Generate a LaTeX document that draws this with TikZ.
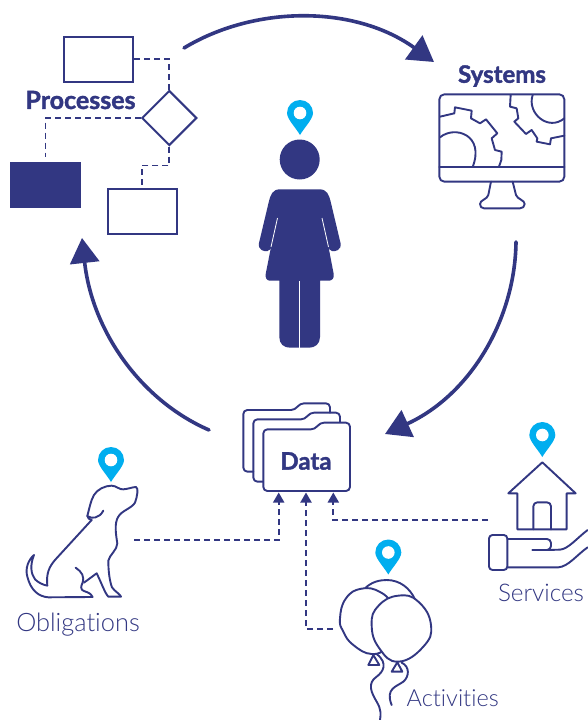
\documentclass[tikz,border=0pt]{standalone}
\usepackage{fontspec}
\usetikzlibrary{shapes.geometric,arrows.meta}
\newfontfamily\headf{Lato}[BoldFont=* Bold,BoldFeatures={FakeBold=1.6}]
\newfontfamily\labf{Lato Light}[Ligatures=NoCommon]
\definecolor{navy}{HTML}{323782}
\definecolor{pinblue}{HTML}{00AEEF}
\tikzset{
  outline/.style={draw=navy,line width=1.9pt,line join=round,line cap=round},
  flowbox/.style={draw=navy,line width=2pt,fill=white,minimum width=69pt,minimum height=45pt,inner sep=0pt},
  dashline/.style={draw=navy,line width=1.9pt,dash pattern=on 6pt off 4pt},
  dasharrow/.style={dashline,-{Triangle[width=11pt,length=10pt]}},
  bigarc/.style={draw=navy,line width=3.6pt,line cap=round,-{Triangle[width=29pt,length=25pt]}},
  headlab/.style={font=\headf\bfseries\fontsize{24}{26}\selectfont,text=navy,inner sep=0pt},
  lightlab/.style={font=\labf\fontsize{24.3}{26}\selectfont,text=navy,inner sep=0pt},
  pinmark/.pic={
    \fill[pinblue] (-13,0) .. controls (-13,-7.2) and (-7.2,-13) .. (0,-13)
      .. controls (7.2,-13) and (13,-7.2) .. (13,0)
      .. controls (13,6) and (4,15) .. (0,22)
      .. controls (-4,15) and (-13,6) .. (-13,0) -- cycle;
    \fill[white] (0,0) circle[radius=6.3pt];
  }
}
\begin{document}
\begin{tikzpicture}[x=1pt,y=-1pt]
\useasboundingbox (0,0) rectangle (588,720);
\fill[white] (0,0) rectangle (588,720);

% processes
\node[flowbox] (boxa) at (98.8,59.3) {};
\node[flowbox] (boxc) at (142,211.6) {};
\node[fill=navy,minimum width=71pt,minimum height=46pt,inner sep=0pt] (boxb) at (45.5,185) {};
\node[diamond,aspect=1,draw=navy,line width=2pt,fill=white,minimum size=55pt,inner sep=0pt] (dec) at (169.3,118) {};
\node[headlab,font=\headf\bfseries\fontsize{25}{26}\selectfont] (proc) at (80.5,100) {Processes};
\draw[dashline] (boxa.east) -| (dec.north);
\draw[dashline] (dec.west) -| ([yshift=5pt]boxb.north);
\draw[dashline] (dec.south) |- (142,165.5) -- (boxc.north);

% systems
\node[headlab] (sys) at (502,76) {Systems};
\node[minimum width=125pt,minimum height=87.4pt,inner sep=0pt] (mon) at (501.8,138) {};
\begin{scope}[shift={(420,50)},x=.3333pt,y=-.3333pt]
  \draw[outline] (60,200) -- (103,190) -- (105,172) -- (155,182) -- (153,205) -- (180,220) -- (198,208) -- (232,250) -- (215,265) -- (225,300) -- (245,305) -- (244,330) -- (237,350);
  \draw[outline] (60,262) .. controls (105,225) and (195,255) .. (158,351);
  \draw[outline] (272,135) -- (270,170) -- (290,175) -- (295,205) -- (283,215) -- (318,252) -- (335,240) -- (352,265) -- (350,275) -- (390,283) -- (393,265) -- (433,257);
  \draw[outline] (338,135) .. controls (320,190) and (385,245) .. (433,205);
  \draw[outline,rounded corners=5pt] (58,133) rectangle (433,395);
  \draw[outline] (58,351) -- (433,351);
  \draw[outline] (213,395) -- (205,435) .. controls (202,448) and (180,450) .. (180,462) .. controls (180,470) and (185,475) .. (192,475) -- (300,475) .. controls (308,475) and (314,470) .. (314,462) .. controls (314,450) and (292,448) .. (288,435) -- (278,395);
\end{scope}

% person
\pic at (300,113) {pinmark};
\node[circle,fill=navy,minimum size=40pt,inner sep=0pt] (head) at (299.7,159.5) {};
\fill[navy] (280,189.3) -- (319.4,189.3) .. controls (327,189.3) and (329,195) .. (330.5,201)
  -- (340.5,243) .. controls (342,250) and (335,252) .. (332,251) .. controls (330,250.5) and (329,249) .. (328.5,247)
  -- (333.7,274) .. controls (334.5,278) and (332,280.7) .. (329,280.7) -- (320,280.7) -- (320,337)
  .. controls (320,344) and (315,347.7) .. (309,347.7) -- (290,347.7) .. controls (284,347.7) and (279.3,344) .. (279.3,337)
  -- (279.3,280.7) -- (270,280.7) .. controls (267,280.7) and (265,278) .. (265.7,274)
  -- (271,247) .. controls (270.5,249) and (269.5,250.5) .. (267.5,251) .. controls (264.5,252) and (257.5,250) .. (259,243)
  -- (269,201) .. controls (270.5,195) and (272.5,189.3) .. (280,189.3) -- cycle;
\draw[white,line width=.8pt] (277.5,218) -- (271,247);
\draw[white,line width=.8pt] (322,218) -- (328.5,247);
\draw[white,line width=.8pt] (299.7,281) -- (299.7,347.7);

% cycle arrows
\coordinate (cyca) at (184,48);
\coordinate (cycb) at (434,62);
\coordinate (cycc) at (516,242);
\coordinate (cycd) at (385,434);
\coordinate (cyce) at (209,430);
\coordinate (cycf) at (82,238);
\draw[bigarc] (cyca) .. controls (255,5) and (355,5) .. (cycb);
\draw[bigarc] (cycc) .. controls (515,320) and (470,395) .. (cycd);
\draw[bigarc] (cyce) .. controls (140,400) and (92,330) .. (cycf);

% data folders
\begin{scope}[shift={(220,390)},x=.3333pt,y=-.3333pt]
  \draw[outline,rounded corners=4pt] (100,245) -- (70,245) -- (70,60) -- (225,60) -- (240,40) -- (330,40) -- (330,68);
  \draw[outline,rounded corners=4pt] (130,275) -- (100,275) -- (100,88) -- (255,88) -- (270,68) -- (360,68) -- (360,97);
  \draw[outline,fill=white,rounded corners=4pt] (130,118) -- (285,118) -- (300,98) -- (390,98) -- (390,303) -- (130,303) -- cycle;
\end{scope}
\node[headlab] (data) at (306,461) {Data};
\coordinate (inl) at (278.7,492.5);
\coordinate (inm) at (306,492.5);
\coordinate (inr) at (333.3,492.5);

% dog
\begin{scope}[shift={(10,440)},x=.3333pt,y=-.3333pt]
  \draw[outline] (245,240) .. controls (238,238) and (233,235) .. (232,228) .. controls (238,205) and (243,180) .. (252,165)
   .. controls (262,148) and (285,137) .. (305,137) .. controls (320,137) and (328,150) .. (340,148) .. controls (355,147) and (368,141) .. (378,141)
   .. controls (386,143) and (382,170) .. (375,188) .. controls (365,205) and (335,212) .. (325,230)
   .. controls (312,250) and (318,285) .. (322,310) .. controls (322,330) and (298,345) .. (295,362)
   .. controls (295,390) and (298,420) .. (306,442) .. controls (315,455) and (330,462) .. (333,470)
   -- (295,470) .. controls (285,460) and (275,430) .. (260,400) -- (222,428);
  \draw[outline] (197,383) .. controls (215,395) and (225,410) .. (217,430) .. controls (208,450) and (218,452) .. (230,456) .. controls (240,460) and (246,465) .. (248,471)
   -- (115,472) .. controls (85,470) and (62,450) .. (52,410) .. controls (45,385) and (55,360) .. (72,345)
   .. controls (60,375) and (62,400) .. (75,418) .. controls (85,428) and (100,435) .. (112,437)
   .. controls (108,400) and (118,380) .. (135,360) -- (245,240);
  \draw[outline] (232,228) .. controls (245,238) and (268,235) .. (280,212);
\end{scope}
\pic at (111,460) {pinmark};
\node[lightlab,font=\labf\fontsize{25.4}{26}\selectfont] (oblab) at (78,625) {Obligations};
\coordinate (dogend) at (134,540);
\draw[dasharrow] (dogend) -| (inl);

% balloons
\begin{scope}[shift={(320,530)},x=.3333pt,y=-.3333pt]
  \draw[outline] (135,175) .. controls (155,155) and (180,150) .. (200,150) .. controls (240,150) and (270,175) .. (285,208);
  \draw[outline,fill=white] plot[smooth cycle,tension=.8] coordinates {(60,265) (78,205) (125,176) (180,186) (215,225) (225,290) (200,350) (155,372) (100,345) (70,305)};
  \draw[outline,fill=white] plot[smooth cycle,tension=.8] coordinates {(155,285) (175,228) (235,197) (295,215) (333,285) (310,350) (235,395) (178,355)};
  \draw[outline] (160,375) -- (145,405) -- (178,405) -- cycle;
  \draw[outline] (232,397) -- (215,425) -- (247,425) -- cycle;
  \draw[outline] (170,372) .. controls (205,400) and (190,425) .. (170,440) .. controls (140,460) and (155,490) .. (170,515) .. controls (185,540) and (182,555) .. (180,570);
  \draw[outline] (245,398) .. controls (270,410) and (268,440) .. (250,455) .. controls (230,470) and (195,475) .. (215,525);
\end{scope}
\pic at (388.3,552.5) {pinmark};
\node[lightlab,font=\labf\fontsize{23.5}{26}\selectfont,anchor=west] (aclab) at (406.5,698) {Activities};
\coordinate (balend) at (333,629);
\draw[dasharrow] (balend) -| (inm);

% services
\begin{scope}[shift={(470,415)},x=.3333pt,y=-.3333pt]
  \draw[outline] (115,235) -- (217,142) -- (317,235) -- (290,235) -- (290,343) -- (142,343) -- (142,235) -- cycle;
  \draw[outline,rounded corners=4pt] (190,343) -- (190,262) -- (243,262) -- (243,343);
  \draw[outline,rounded corners=3.5pt] (57,360) rectangle (112,465);
  \draw[outline,rounded corners=4pt] (112,372) -- (243,372) -- (243,405) -- (187,405);
  \draw[outline] (232,405) -- (270,404) .. controls (295,402) and (320,370) .. (353,345);
  \draw[outline] (112,457) -- (265,457) .. controls (295,455) and (320,420) .. (353,397);
\end{scope}
\pic at (542.3,435) {pinmark};
\node[lightlab] (svlab) at (541,593) {Services};
\coordinate (svend) at (488,520);
\draw[dasharrow] (svend) -| (inr);
\end{tikzpicture}
\end{document}
